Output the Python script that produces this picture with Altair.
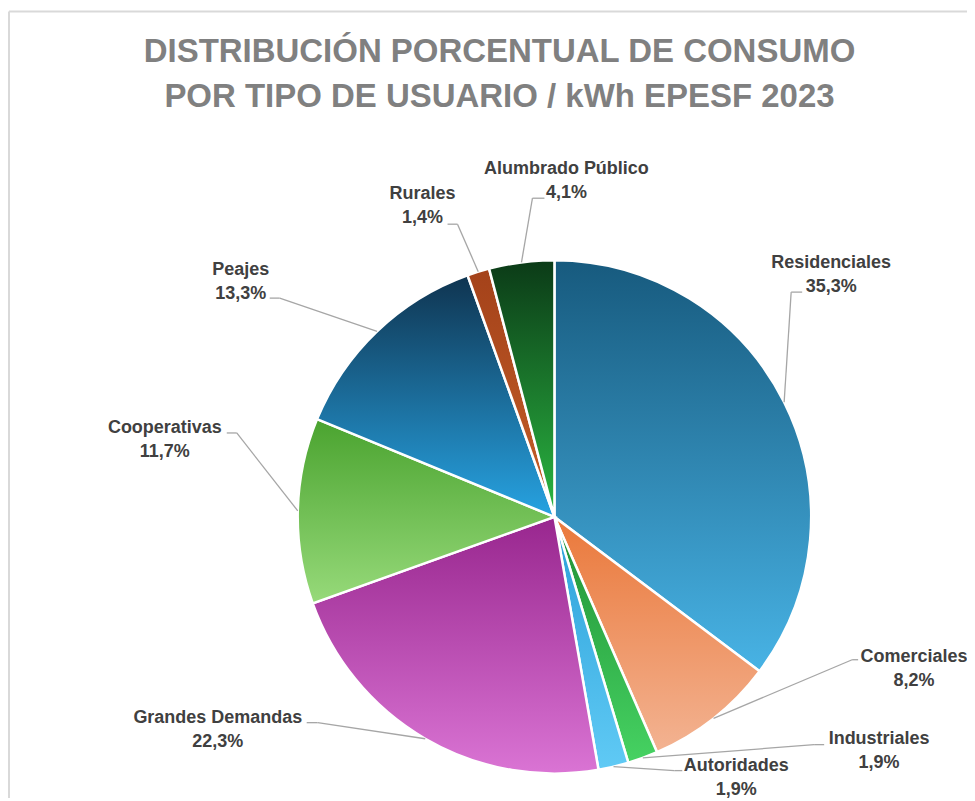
import altair as alt
import pandas as pd

# ---------------- data ----------------
categories = ["Residenciales", "Comerciales", "Industriales", "Autoridades",
              "Grandes Demandas", "Cooperativas", "Peajes", "Rurales",
              "Alumbrado Público"]
shares = [35.3, 8.2, 1.9, 1.9, 22.3, 11.7, 13.3, 1.4, 4.1]
title_lines = ["DISTRIBUCIÓN PORCENTUAL DE CONSUMO",
               "POR TIPO DE USUARIO / kWh EPESF 2023"]

# ---------------- styles ----------------
grad_top = ["#175a7e", "#ea783a", "#1f8f34", "#2a9fd8", "#98268e",
            "#4aa32f", "#0f3450", "#a4421a", "#0b3a17"]
grad_bottom = ["#48b3e5", "#f3b392", "#46d262", "#60caf5", "#da74d4",
               "#97da7a", "#27a3e2", "#c55f28", "#2bb842"]

# ---------------- layout (px, relative to the pie centre) ----------------
W, H = 960, 670
PAD_TOP = 120
CX, CY, R = 547, 389, 257
label_dx = [277, 360, 325, 182, -337, -390, -314, -132, 12]
label_dy = [-254, 140, 222, 249, 201, -89, -247, -323, -348]
elbow_dx = [237, 298, 260, 120, -237, -318, -275, -97, -22]
elbow_dy = [-225, 143, 228, 254, 206, -84, -219, -293, -319]
end_dx = [248, 304, 270, 128, -248, -328, -285, -107, -10]

df = pd.DataFrame({
    "categoria": categories,
    "share": shares,
    "orden": list(range(len(categories))),
    "ldx": label_dx, "ldy": label_dy,
    "bdx": elbow_dx, "bdy": elbow_dy,
    "edx": end_dx,
})

base = (
    alt.Chart(df)
    .transform_joinaggregate(total="sum(share)")
    .transform_window(cum="sum(share)", sort=[alt.SortField("orden")], frame=[None, 0])
    .transform_calculate(
        a1="datum.cum / datum.total * 2 * PI",
        a0="(datum.cum - datum.share) / datum.total * 2 * PI",
    )
    .transform_calculate(mid="(datum.a0 + datum.a1) / 2")
    .transform_calculate(
        px=f"{CX} + {R} * sin(datum.mid)",
        py=f"{CY} - {R} * cos(datum.mid)",
        qx=f"{CX} + datum.bdx",
        qy=f"{CY} + datum.bdy",
        rx=f"{CX} + datum.edx",
        lx=f"{CX} + datum.ldx",
        ly=f"{CY} + datum.ldy",
        label="datum.categoria + '\\n' + replace(format(datum.share, '.1f'), '.', ',') + '%'",
    )
)

layers = []
for cat, c1, c2 in zip(categories, grad_top, grad_bottom):
    grad = alt.Gradient(
        gradient="linear",
        stops=[alt.GradientStop(color=c1, offset=0), alt.GradientStop(color=c2, offset=1)],
        x1=0, x2=0, y1=0, y2=1,
    )
    layers.append(
        base.transform_filter(alt.datum.categoria == cat)
        .mark_arc(outerRadius=R, stroke="white", strokeWidth=2.5, color=grad)
        .encode(
            theta=alt.Theta("a0:Q", scale=None),
            theta2="a1:Q",
            x=alt.value(CX),
            y=alt.value(CY),
        )
    )

leader1 = base.mark_rule(color="#a6a6a6", strokeWidth=1.3).encode(
    x=alt.X("px:Q", scale=None), y=alt.Y("py:Q", scale=None),
    x2="qx:Q", y2="qy:Q",
)
leader2 = base.mark_rule(color="#a6a6a6", strokeWidth=1.3).encode(
    x=alt.X("qx:Q", scale=None), y=alt.Y("qy:Q", scale=None),
    x2="rx:Q", y2="qy:Q",
)
labels = base.mark_text(
    font="Liberation Sans", fontSize=18, fontWeight="bold", color="#404040",
    lineBreak="\n", lineHeight=24, align="center", baseline="middle",
).encode(
    x=alt.X("lx:Q", scale=None), y=alt.Y("ly:Q", scale=None), text="label:N",
)

frame_df = pd.DataFrame({"k": [0]})
frame_top = alt.Chart(frame_df).mark_rule(color="#d9d9d9", strokeWidth=2).encode(
    x=alt.value(1), x2=alt.value(W + 20), y=alt.value(-117)
)
frame_left = alt.Chart(frame_df).mark_rule(color="#d9d9d9", strokeWidth=2).encode(
    x=alt.value(1), y=alt.value(-117), y2=alt.value(H + 20)
)

chart = (
    alt.layer(frame_top, frame_left, *layers, leader1, leader2, labels)
    .properties(
        width=W, height=H,
        autosize=alt.AutoSizeParams(type="none"),
        padding={"top": PAD_TOP, "left": 0, "right": 0, "bottom": 0},
        title=alt.TitleParams(
            text=title_lines, font="Liberation Sans", fontSize=33,
            fontWeight="bold", color="#808080", anchor="middle", dx=12,
            offset=-104, lineHeight=45,
        ),
    )
    .configure_view(stroke=None)
)

chart.save("out.html", embed_options={"renderer": "svg", "actions": False})
